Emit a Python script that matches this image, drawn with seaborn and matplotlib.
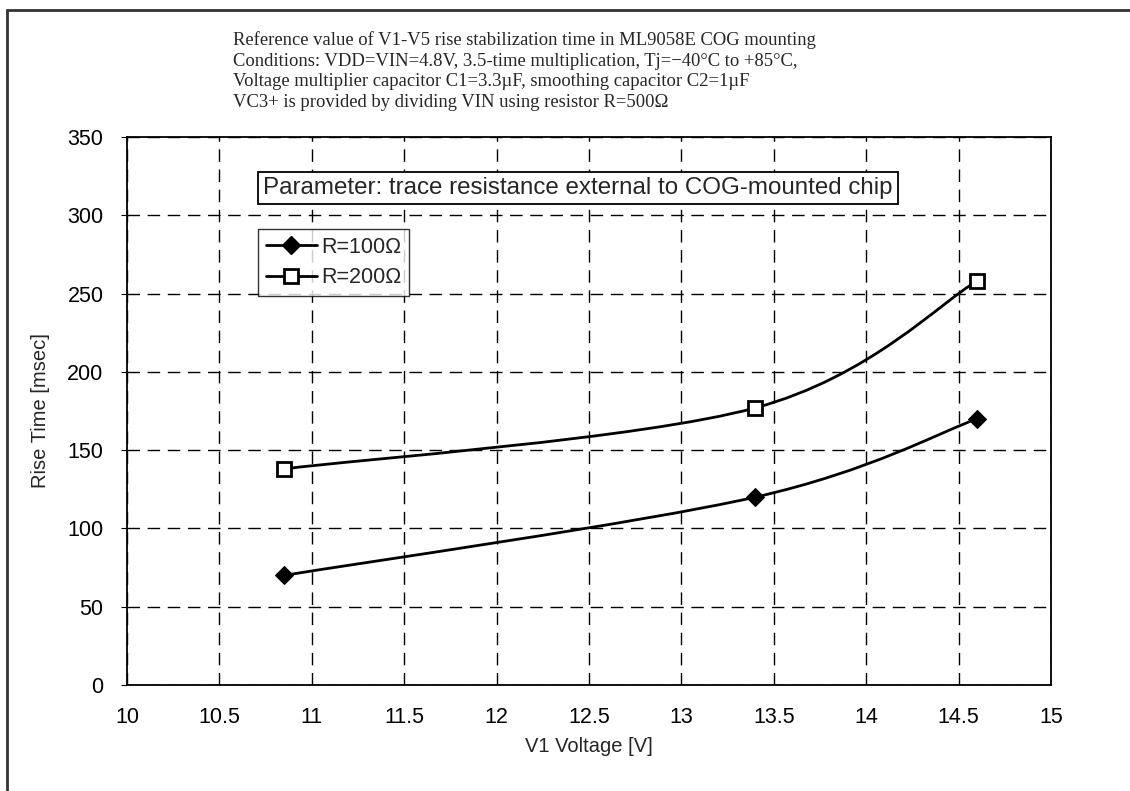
import numpy as np
import pandas as pd
import seaborn as sns
import matplotlib
matplotlib.use("Agg")
import matplotlib.pyplot as plt
from matplotlib.path import Path
from matplotlib.patches import PathPatch, Rectangle
from matplotlib.lines import Line2D

# data
voltage = [10.85, 13.4, 14.6]
rise_r100 = [70, 120, 170]
rise_r200 = [138, 177, 258]
series_names = ["R=100Ω", "R=200Ω"]

note_lines = [
    "Reference value of V1-V5 rise stabilization time in ML9058E COG mounting",
    "Conditions: VDD=VIN=4.8V, 3.5-time multiplication, Tj=\u221240°C to +85°C,",
    "Voltage multiplier capacitor C1=3.3µF, smoothing capacitor C2=1µF",
    "VC3+ is provided by dividing VIN using resistor R=500Ω",
]
param_text = "Parameter: trace resistance external to COG-mounted chip"


def smooth_path(xs, ys):
    # Excel-like smoothed line: cubic bezier through the points
    pts = np.column_stack([xs, ys]).astype(float)
    n = len(pts)
    verts = [pts[0]]
    codes = [Path.MOVETO]
    for i in range(n - 1):
        p0 = pts[i - 1] if i > 0 else pts[i]
        p1, p2 = pts[i], pts[i + 1]
        p3 = pts[i + 2] if i + 2 < n else pts[i + 1]
        c1 = p1 + (p2 - p0) / 6.0
        c2 = p2 - (p3 - p1) / 6.0
        verts += [c1, c2, p2]
        codes += [Path.CURVE4] * 3
    return Path(verts, codes)


sns.set_style("white")
plt.rcParams["font.family"] = ["Liberation Sans", "DejaVu Sans"]

fig = plt.figure(figsize=(11.3, 7.91), dpi=100)
ax = fig.add_axes([127 / 1130, 1 - 685 / 791, (1051 - 127) / 1130, (685 - 137) / 791])

df = pd.DataFrame({
    "V1": voltage * 2,
    "rise": rise_r100 + rise_r200,
    "R": [series_names[0]] * 3 + [series_names[1]] * 3,
})

for ys in (rise_r100, rise_r200):
    ax.add_patch(PathPatch(smooth_path(voltage, ys), facecolor="none",
                           edgecolor="black", lw=2, zorder=3))

sns.lineplot(data=df[df.R == series_names[0]], x="V1", y="rise", ax=ax,
             linestyle="", marker="D", markersize=9.5, color="black",
             markeredgecolor="black", zorder=4, legend=False)
sns.lineplot(data=df[df.R == series_names[1]], x="V1", y="rise", ax=ax,
             linestyle="", marker="s", markersize=10, color="black",
             markerfacecolor="white", markeredgecolor="black",
             markeredgewidth=2, zorder=4, legend=False)

ax.set_xlim(10, 15)
ax.set_ylim(0, 350)
ax.set_xticks(np.arange(10, 15.01, 0.5))
ax.set_xticklabels(["10", "10.5", "11", "11.5", "12", "12.5", "13", "13.5", "14", "14.5", "15"])
ax.set_yticks(np.arange(0, 351, 50))
ax.tick_params(axis="both", labelsize=15.5, colors="black", length=4, direction="out")
ax.tick_params(axis="x", length=0, pad=16)
ax.tick_params(axis="y", left=True, pad=13)
ax.grid(True, color="black", linestyle=(0, (9, 5.5)), linewidth=1)
for s in ax.spines.values():
    s.set_color("black")
    s.set_linewidth(1.3)

ax.set_xlabel("V1 Voltage [V]", fontsize=14.5, labelpad=6)
ax.set_ylabel("Rise Time [msec]", fontsize=14.5, labelpad=12)

handles = [
    Line2D([], [], color="black", lw=2, marker="D", markersize=9.5),
    Line2D([], [], color="black", lw=2, marker="s", markersize=10,
           markerfacecolor="white", markeredgewidth=2),
]
leg = ax.legend(handles, series_names, loc="upper left",
                bbox_to_anchor=((258 - 127) / 924, (685 - 229) / 548),
                fontsize=15.5, frameon=True, fancybox=False, handlelength=2.4,
                borderpad=0.35, labelspacing=0.45, handletextpad=0.2,
                borderaxespad=0)
leg.get_frame().set_edgecolor("black")
leg.get_frame().set_linewidth(1)

ax.text((578 - 127) / 924, (685 - 188) / 548, param_text, transform=ax.transAxes,
        ha="center", va="center", fontsize=17.4,
        bbox=dict(boxstyle="square,pad=0.22", facecolor="white", edgecolor="black", lw=1.3),
        zorder=5)

for i, line in enumerate(note_lines):
    fig.text(233 / 1130, 1 - (45 + 20.7 * i) / 791, line, fontsize=13.4,
             family=["Liberation Serif", "DejaVu Serif"], ha="left", va="baseline")

fig.patches.append(Rectangle((7 / 1130, -0.1), 1.2, 1 - 10 / 791 + 0.1,
                             transform=fig.transFigure, fill=False,
                             edgecolor="#333333", lw=2, figure=fig))

fig.savefig("out.png", dpi=100)
